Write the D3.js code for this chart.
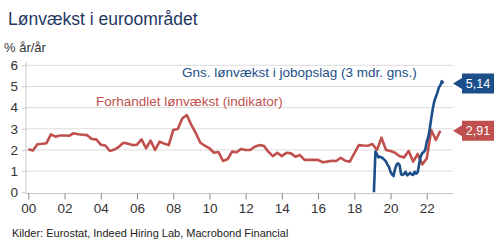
<!DOCTYPE html>
<html>
<head>
<meta charset="utf-8">
<script src="https://cdn.jsdelivr.net/npm/d3@7"></script>
<style>
  body { margin: 0; background: #fff; }
  svg { font-family: "Liberation Sans", Arial, sans-serif; }
</style>
</head>
<body>
<svg width="500" height="250"></svg>
<script>
// negotiated wages, quarterly from 2000Q1
var redStart = 2000;
var redValues = [
  2.03, 1.97, 2.27, 2.29,
  2.32, 2.74, 2.63, 2.68,
  2.68, 2.67, 2.79, 2.74,
  2.72, 2.70, 2.52, 2.50,
  2.25, 2.21, 1.95, 2.02,
  2.15, 2.34, 2.30, 2.23,
  2.25, 2.50, 2.08, 2.44,
  2.00, 2.39, 2.30, 2.23,
  2.94, 2.99, 3.49, 3.65,
  3.18, 2.79, 2.34, 2.20,
  2.08, 1.87, 1.90, 1.48,
  1.56, 1.92, 1.89, 2.05,
  2.00, 2.00, 2.15, 2.23,
  2.20, 1.92, 1.71, 1.87,
  1.71, 1.87, 1.84, 1.68,
  1.76, 1.53, 1.53, 1.53,
  1.53, 1.42, 1.45, 1.49,
  1.48, 1.63, 1.49, 1.45,
  1.84, 2.23, 2.21, 2.20,
  2.28, 2.00, 2.58, 2.00,
  1.95, 1.87, 1.70, 1.65,
  1.95, 1.45, 1.81, 1.32,
  1.60, 2.94, 2.47, 2.91
];

// job posting wages, 3m avg, monthly from Feb 2019
var blueStart = 2019 + 1 / 12;
var blueValues = [
  0.00, 1.92, 1.80, 1.65, 1.68, 1.65, 1.60, 1.53, 1.45, 1.30, 1.20,
  0.97, 0.85, 0.77, 1.10, 1.30, 1.37, 1.29, 0.85, 0.82, 0.88, 0.97, 0.80,
  0.85, 0.92, 0.85, 0.82, 0.97, 0.88, 0.95, 1.35, 1.70, 1.85, 1.90, 2.00,
  2.39, 2.60, 3.00, 3.50, 3.95, 4.30, 4.50, 4.70, 4.95, 5.05, 5.25, 5.14
];

var yTicks = [0, 1, 2, 3, 4, 5, 6];
var xTicks = [2000, 2002, 2004, 2006, 2008, 2010, 2012, 2014, 2016, 2018, 2020, 2022];

var red = "#c0504d", blue = "#1c4f8a";

var redData = redValues.map(function(v, i) { return { t: redStart + i / 4, v: v }; });
var blueData = blueValues.map(function(v, i) { return { t: blueStart + i / 12, v: v }; });

var svg = d3.select("svg");

var x = d3.scaleLinear().domain([1999.87, 2023.45]).range([26, 453]);
var y = d3.scaleLinear().domain([0, 6]).range([192.3, 65.3]);

// title
svg.append("text")
    .attr("x", 8).attr("y", 25)
    .attr("fill", "#1f3864")
    .style("font-size", "17.5px")
    .text("Lønvækst i euroområdet");

svg.append("text")
    .attr("x", 4).attr("y", 52)
    .attr("fill", "#333")
    .style("font-size", "13px")
    .text("% år/år");

// grid
svg.append("g")
  .selectAll("line")
  .data(yTicks.slice(1))
  .enter().append("line")
    .attr("x1", 26).attr("x2", 453)
    .attr("y1", function(d) { return y(d); })
    .attr("y2", function(d) { return y(d); })
    .attr("stroke", "#dcdcdc")
    .attr("stroke-width", 1);

// y axis
var yAxis = svg.append("g")
    .attr("transform", "translate(26,0)")
    .call(d3.axisLeft(y).tickValues(yTicks).tickFormat(d3.format("d")).tickSize(4).tickPadding(4));
yAxis.select(".domain").attr("stroke", "#c8c8c8").attr("d", "M0,62V193.5");
yAxis.selectAll(".tick line").attr("stroke", "#c8c8c8");
yAxis.selectAll("text").attr("fill", "#333").style("font-size", "13.5px")
    .style("font-family", "'Liberation Sans', Arial, sans-serif");

// x axis
var xAxis = svg.append("g")
    .attr("transform", "translate(0,193.5)")
    .call(d3.axisBottom(x).tickValues(xTicks).tickSize(6).tickPadding(4)
      .tickFormat(function(d) { return d3.format("02d")(d % 100); }));
xAxis.select(".domain").attr("stroke", "#c8c8c8").attr("d", "M26,0H453");
xAxis.selectAll(".tick line").attr("stroke", "#888");
xAxis.selectAll("text").attr("fill", "#333").style("font-size", "13.5px")
    .style("font-family", "'Liberation Sans', Arial, sans-serif");

var line = d3.line()
    .x(function(d) { return x(d.t); })
    .y(function(d) { return y(d.v); });

svg.append("path")
    .datum(redData)
    .attr("fill", "none")
    .attr("stroke", red)
    .attr("stroke-width", 2.6)
    .attr("stroke-linejoin", "round")
    .attr("d", line);

svg.append("path")
    .datum(blueData)
    .attr("fill", "none")
    .attr("stroke", blue)
    .attr("stroke-width", 2.6)
    .attr("stroke-linejoin", "round")
    .attr("d", line);

// series annotations
svg.append("text")
    .attr("x", 182).attr("y", 77)
    .attr("fill", blue)
    .style("font-size", "13.5px")
    .text("Gns. lønvækst i jobopslag (3 mdr. gns.)");

svg.append("text")
    .attr("x", 96).attr("y", 106)
    .attr("fill", red)
    .style("font-size", "13.5px")
    .text("Forhandlet lønvækst (indikator)");

// end value tags
var fmt = function(v) { return d3.format(".2f")(v).replace(".", ","); };
var tags = [
  { v: blueValues[blueValues.length - 1], c: blue },
  { v: redValues[redValues.length - 1], c: red }
];
var tag = svg.append("g").selectAll("g")
  .data(tags)
  .enter().append("g")
    .attr("transform", function(d) { return "translate(453," + y(d.v) + ")"; });
tag.append("path")
    .attr("d", "M0,0L9,-5.5V-10H41V10H9V5.5Z")
    .attr("fill", function(d) { return d.c; });
tag.append("text")
    .attr("x", 25).attr("y", 4.5)
    .attr("text-anchor", "middle")
    .attr("fill", "#fff")
    .style("font-size", "12.5px")
    .text(function(d) { return fmt(d.v); });

// source
svg.append("text")
    .attr("x", 12).attr("y", 237)
    .attr("fill", "#222")
    .style("font-size", "11px")
    .text("Kilder: Eurostat, Indeed Hiring Lab, Macrobond Financial");
</script>
</body>
</html>
